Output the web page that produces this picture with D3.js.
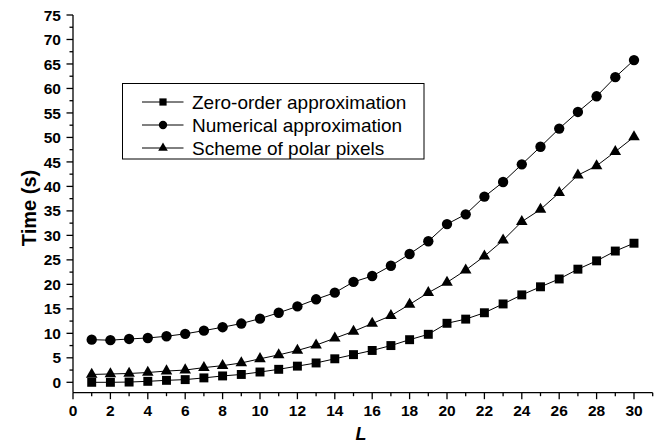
<!DOCTYPE html>
<html>
<head>
<meta charset="utf-8">
<script src="https://cdn.jsdelivr.net/npm/d3@7"></script>
<style>
  html, body { margin: 0; padding: 0; background: #fff; }
  svg { display: block; }
</style>
</head>
<body>
<svg id="chart" width="656" height="444"></svg>
<script>
const L = d3.range(1, 31);
const zeroOrder = [0.0, 0.0, 0.05, 0.2, 0.4, 0.55, 0.9, 1.3, 1.6, 2.1, 2.65, 3.3, 3.95, 4.8, 5.65,
                   6.5, 7.5, 8.7, 9.8, 12.05, 12.9, 14.2, 16.0, 17.85, 19.5, 21.1, 23.1, 24.8, 26.8, 28.4];
const numerical = [8.7, 8.6, 8.85, 9.05, 9.4, 9.9, 10.55, 11.25, 12.0, 13.0, 14.2, 15.5, 16.95, 18.3, 20.5,
                   21.7, 23.8, 26.2, 28.8, 32.3, 34.3, 37.9, 40.9, 44.5, 48.1, 51.8, 55.2, 58.4, 62.3, 65.8];
const polar = [1.6, 1.7, 1.8, 2.0, 2.3, 2.5, 3.0, 3.4, 3.95, 4.8, 5.6, 6.5, 7.6, 9.0, 10.4,
               12.0, 13.6, 15.9, 18.3, 20.4, 22.9, 25.75, 29.0, 32.8, 35.3, 38.7, 42.3, 44.2, 47.1, 50.1];
const seriesNames = ["Zero-order approximation", "Numerical approximation", "Scheme of polar pixels"];
const xTicks = d3.range(0, 31, 2);
const yTicks = d3.range(0, 76, 5);

const svg = d3.select("#chart");
const x = d3.scaleLinear().domain([0, 31]).range([73, 652.7]);
const y = d3.scaleLinear().domain([0, 75]).range([382.3, 15]);
const yBottom = y(-2.12);

const font = "'Liberation Sans', Arial, Helvetica, sans-serif";

// Axes
const xAxis = svg.append("g").attr("transform", `translate(0,${yBottom})`);
xAxis.append("line").attr("x1", x(0)).attr("x2", x(31)).attr("stroke", "#000").attr("stroke-width", 1.3);
xAxis.selectAll("line.minor").data(d3.range(0, 32)).join("line").attr("class", "minor")
  .attr("x1", d => x(d)).attr("x2", d => x(d)).attr("y1", 0).attr("y2", d => d % 2 === 0 ? 6.5 : 3.5)
  .attr("stroke", "#000").attr("stroke-width", 1.3);
xAxis.selectAll("text").data(xTicks).join("text")
  .attr("x", d => x(d)).attr("y", 23.5).attr("text-anchor", "middle")
  .attr("font-family", font).attr("font-weight", "bold").attr("font-size", 15.5).text(d => d);

const yAxis = svg.append("g").attr("transform", `translate(${x(0)},0)`);
yAxis.append("line").attr("y1", y(75)).attr("y2", yBottom).attr("stroke", "#000").attr("stroke-width", 1.3);
yAxis.selectAll("line.minor").data(d3.range(0, 75.1, 2.5)).join("line").attr("class", "minor")
  .attr("y1", d => y(d)).attr("y2", d => y(d)).attr("x1", 0).attr("x2", d => d % 5 === 0 ? -6.5 : -3.5)
  .attr("stroke", "#000").attr("stroke-width", 1.3);
yAxis.selectAll("text").data(yTicks).join("text")
  .attr("x", -12).attr("y", d => y(d)).attr("dy", "0.36em").attr("text-anchor", "end")
  .attr("font-family", font).attr("font-weight", "bold").attr("font-size", 15.5).text(d => d);

// Axis titles
svg.append("text").attr("transform", `translate(36,208) rotate(-90)`).attr("text-anchor", "middle")
  .attr("font-family", font).attr("font-weight", "bold").attr("font-size", 20).text("Time (s)");
svg.append("text").attr("x", 361).attr("y", 440).attr("text-anchor", "middle")
  .attr("font-family", font).attr("font-weight", "bold").attr("font-style", "italic").attr("font-size", 18).text("L");

// Series
const series = [
  { name: seriesNames[0], values: zeroOrder, symbol: d3.symbolSquare, size: 80, lsize: 52 },
  { name: seriesNames[1], values: numerical, symbol: d3.symbolCircle, size: 84, lsize: 55 },
  { name: seriesNames[2], values: polar, symbol: d3.symbolTriangle, size: 58, lsize: 40 }
];
const line = d3.line().x((d, i) => x(L[i])).y(d => y(d));

series.forEach(s => {
  svg.append("path").attr("d", line(s.values)).attr("fill", "none").attr("stroke", "#000").attr("stroke-width", 1);
  svg.append("g").selectAll("path").data(s.values).join("path")
    .attr("transform", (d, i) => `translate(${x(L[i])},${y(d)})`)
    .attr("d", d3.symbol().type(s.symbol).size(s.size)).attr("fill", "#000");
});

// Legend
const legend = svg.append("g");
legend.append("rect").attr("x", 122.5).attr("y", 83.5).attr("width", 301.5).attr("height", 75.5)
  .attr("fill", "#fff").attr("stroke", "#000").attr("stroke-width", 1);
const rowY = [102, 125, 148];
series.forEach((s, i) => {
  const g = legend.append("g").attr("transform", `translate(0,${rowY[i]})`);
  g.append("line").attr("x1", 142).attr("x2", 183.5).attr("stroke", "#000").attr("stroke-width", 1);
  g.append("path").attr("transform", "translate(163,0)").attr("d", d3.symbol().type(s.symbol).size(s.lsize)).attr("fill", "#000");
  g.append("text").attr("x", 192).attr("y", 0).attr("dy", "0.36em")
    .attr("font-family", font).attr("font-size", 19).text(s.name);
});
</script>
</body>
</html>
